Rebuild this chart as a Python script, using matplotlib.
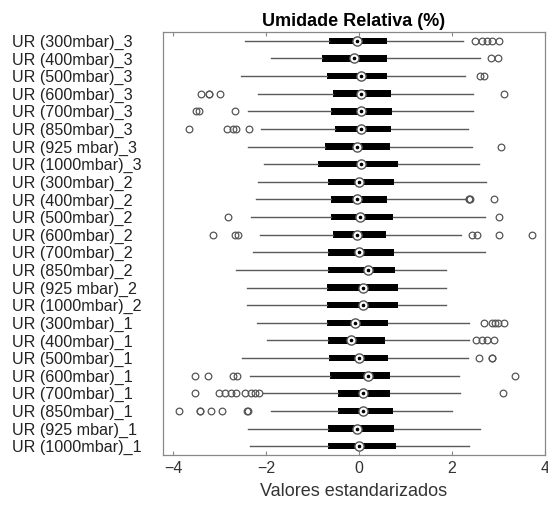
import matplotlib
matplotlib.use('Agg')
import matplotlib.pyplot as plt

plt.rcParams['font.family'] = ['Liberation Sans', 'DejaVu Sans']

labels = [
    'UR (300mbar)_3', 'UR (400mbar)_3', 'UR (500mbar)_3', 'UR (600mbar)_3',
    'UR (700mbar)_3', 'UR (850mbar)_3', 'UR (925 mbar)_3', 'UR (1000mbar)_3',
    'UR (300mbar)_2', 'UR (400mbar)_2', 'UR (500mbar)_2', 'UR (600mbar)_2',
    'UR (700mbar)_2', 'UR (850mbar)_2', 'UR (925 mbar)_2', 'UR (1000mbar)_2',
    'UR (300mbar)_1', 'UR (400mbar)_1', 'UR (500mbar)_1', 'UR (600mbar)_1',
    'UR (700mbar)_1', 'UR (850mbar)_1', 'UR (925 mbar)_1', 'UR (1000mbar)_1',
]

whislo = [-2.46, -1.89, -2.54, -2.18, -2.40, -2.11, -2.40, -2.04,
          -2.17, -2.22, -2.33, -2.13, -2.29, -2.65, -2.42, -2.42,
          -2.20, -1.99, -2.51, -2.35, -2.07, -1.90, -2.40, -2.35]
q1 = [-0.64, -0.80, -0.70, -0.57, -0.61, -0.51, -0.73, -0.88,
      -0.66, -0.61, -0.61, -0.57, -0.67, -0.68, -0.70, -0.70,
      -0.70, -0.68, -0.64, -0.63, -0.45, -0.46, -0.68, -0.68]
med = [-0.04, -0.12, 0.04, 0.04, 0.04, 0.04, -0.04, 0.04,
       -0.01, -0.04, 0.02, -0.04, -0.01, 0.19, 0.09, 0.09,
       -0.08, -0.17, -0.01, 0.19, 0.09, 0.09, -0.05, 0.00]
q3 = [0.60, 0.60, 0.60, 0.68, 0.71, 0.68, 0.66, 0.83,
      0.75, 0.59, 0.73, 0.57, 0.75, 0.77, 0.83, 0.83,
      0.62, 0.55, 0.62, 0.67, 0.67, 0.72, 0.75, 0.80]
whishi = [2.24, 2.60, 2.28, 2.46, 2.46, 2.35, 2.42, 2.58,
          2.72, 2.30, 2.71, 2.20, 2.71, 1.88, 1.88, 1.88,
          2.36, 2.36, 2.35, 2.15, 2.18, 2.00, 2.60, 2.36]
outliers = [
    [2.50, 2.65, 2.76, 2.87, 3.00],
    [2.83, 2.98],
    [2.60, 2.69],
    [-3.40, -3.23, -3.22, -3.00, 3.12],
    [-3.51, -3.45, -2.66],
    [-3.67, -2.85, -2.71, -2.65, -2.37],
    [3.05],
    [],
    [],
    [2.36, 2.37, 2.38, 2.91],
    [-2.83, 3.02],
    [-3.15, -2.67, -2.60, 2.43, 2.54, 3.00, 3.72],
    [],
    [],
    [],
    [],
    [2.69, 2.87, 2.93, 2.98, 3.12],
    [2.51, 2.65, 2.76, 2.91],
    [2.57, 2.85, 2.86],
    [-3.54, -3.25, -2.71, -2.62, 3.35],
    [-3.54, -3.02, -2.89, -2.75, -2.64, -2.46, -2.33, -2.24, -2.15, 3.10],
    [-3.87, -3.43, -3.42, -3.18, -2.94, -2.42, -2.40],
    [],
    [],
]

stats = []
for i in range(len(labels)):
    stats.append(dict(label=labels[i], whislo=whislo[i], q1=q1[i], med=med[i],
                      q3=q3[i], whishi=whishi[i], fliers=outliers[i]))

pos = list(range(1, len(labels) + 1))

fig = plt.figure(figsize=(5.48, 5.11), dpi=100)
ax = fig.add_axes([163 / 548, 1 - 455 / 511, (545 - 163) / 548, (455 - 32) / 511])

ax.bxp(stats, positions=pos, vert=False, widths=0.37, patch_artist=True,
       showcaps=False,
       boxprops=dict(facecolor='black', edgecolor='none', linewidth=0),
       whiskerprops=dict(color='#5a5a5a', linewidth=1.0),
       medianprops=dict(linewidth=0),
       flierprops=dict(marker='o', markersize=4.8, markerfacecolor='none',
                       markeredgecolor='#555555', markeredgewidth=0.9))

# median: white ring with centre dot
ax.plot(med, pos, 'o', ms=6.6, mfc='white', mec='#555555', mew=1.0, zorder=4)
ax.plot(med, pos, 'o', ms=1.6, mfc='black', mec='black', zorder=5)

ax.set_xlim(-4.22, 4.0)
ax.set_ylim(24.5, 0.5)
ax.set_xticks([-4, -2, 0, 2, 4])
ax.set_yticks(pos)
ax.set_yticklabels(labels)
ax.tick_params(axis='x', direction='in', length=3, top=True, colors='#888888',
               labelcolor='#333333', labelsize=11.5, pad=4)
ax.tick_params(axis='y', length=0, labelsize=11.6, labelcolor='#222222', pad=108.5)
for t in ax.get_yticklabels():
    t.set_horizontalalignment('left')
for s in ax.spines.values():
    s.set_color('#888888')
    s.set_linewidth(0.9)

ax.set_title('Umidade Relativa (%)', fontsize=13, fontweight='bold', pad=4)
ax.set_xlabel('Valores estandarizados', fontsize=13, color='#333333', labelpad=5)

fig.savefig('out.png', dpi=100)
